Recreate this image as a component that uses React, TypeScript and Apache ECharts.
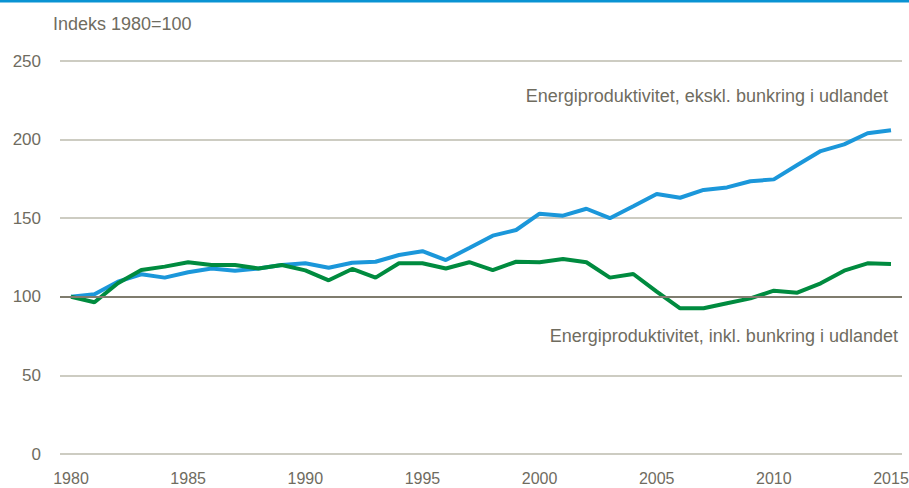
import React, { useEffect, useRef } from "react";
import * as echarts from "echarts";

const years = [1980,1981,1982,1983,1984,1985,1986,1987,1988,1989,1990,1991,1992,1993,1994,1995,1996,1997,1998,1999,2000,2001,2002,2003,2004,2005,2006,2007,2008,2009,2010,2011,2012,2013,2014,2015];
const eksklBunkring = [100,101.6,109.6,114.3,112.2,115.6,118,116.6,118,120.2,121.3,118.5,121.7,122.3,126.6,129,123.4,131,138.9,142.5,152.9,151.6,156,150,157.6,165.4,163,168,169.6,173.5,174.7,183.8,192.7,197,204,206];
const inklBunkring = [100,96.5,108.6,117,119.2,122,120.2,120.2,118,120.2,116.8,110.5,117.7,112.2,121.3,121.3,118,122,117,122.3,122,124,122,112.2,114.5,103.3,92.7,92.7,95.9,99,103.9,102.6,108.6,116.6,121.3,120.9];
const yearTicks = [1980,1985,1990,1995,2000,2005,2010,2015];
const yTitle = "Indeks 1980=100";
const labelEkskl = "Energiproduktivitet, ekskl. bunkring i udlandet";
const labelInkl = "Energiproduktivitet, inkl. bunkring i udlandet";

const FONT = "'Liberation Sans', Arial, sans-serif";
const TEXT = "#6f6c5f";

export default function App() {
  const ref = useRef<HTMLDivElement>(null);
  useEffect(() => {
    if (!ref.current) return;
    const chart = echarts.init(ref.current, undefined, { renderer: "svg" });
    chart.setOption({
      animation: false,
      backgroundColor: "#ffffff",
      textStyle: { fontFamily: FONT },
      grid: { left: 60, right: 7, top: 61, bottom: 34, containLabel: false, outerBoundsMode: "none" },
      xAxis: {
        type: "value",
        min: 1979.53,
        max: 2015.47,
        axisLine: { show: false },
        axisTick: { show: false },
        splitLine: { show: false },
        axisLabel: {
          customValues: yearTicks,
          color: TEXT,
          fontSize: 16,
          fontFamily: FONT,
          margin: 16,
          formatter: (v: number) => String(v),
        },
      },
      yAxis: {
        type: "value",
        min: 0,
        max: 250,
        interval: 50,
        axisLine: { show: false },
        axisTick: { show: false },
        splitLine: { lineStyle: { color: "#bdbbae", width: 1.5 } },
        axisLabel: { color: TEXT, fontSize: 17, fontFamily: FONT, margin: 19 },
      },
      graphic: [
        { type: "rect", left: 0, top: 0, shape: { width: 909, height: 2.5 }, style: { fill: "#0a93d3" } },
        { type: "text", x: 53, y: 24, style: { text: yTitle, fill: TEXT, font: `18px ${FONT}`, verticalAlign: "middle", align: "left" } },
        { type: "text", x: 888, y: 96, style: { text: labelEkskl, fill: TEXT, font: `18px ${FONT}`, verticalAlign: "middle", align: "right" } },
        { type: "text", x: 898, y: 336, style: { text: labelInkl, fill: TEXT, font: `18px ${FONT}`, verticalAlign: "middle", align: "right" } },
      ],
      series: [
        {
          type: "line",
          data: [],
          silent: true,
          markLine: {
            silent: true,
            symbol: "none",
            label: { show: false },
            lineStyle: { color: "#7f7c6e", width: 2, type: "solid" },
            data: [{ yAxis: 100 }],
          },
        },
        {
          name: labelEkskl,
          type: "line",
          data: years.map((y, i) => [y, eksklBunkring[i]]),
          showSymbol: false,
          lineStyle: { color: "#1b97da", width: 4 },
          itemStyle: { color: "#1b97da" },
          z: 3,
        },
        {
          name: labelInkl,
          type: "line",
          data: years.map((y, i) => [y, inklBunkring[i]]),
          showSymbol: false,
          lineStyle: { color: "#008b3f", width: 4 },
          itemStyle: { color: "#008b3f" },
          z: 4,
        },
      ],
    });
    return () => chart.dispose();
  }, []);
  return <div ref={ref} style={{ width: 909, height: 488, position: "absolute", left: 0, top: 0 }} />;
}
